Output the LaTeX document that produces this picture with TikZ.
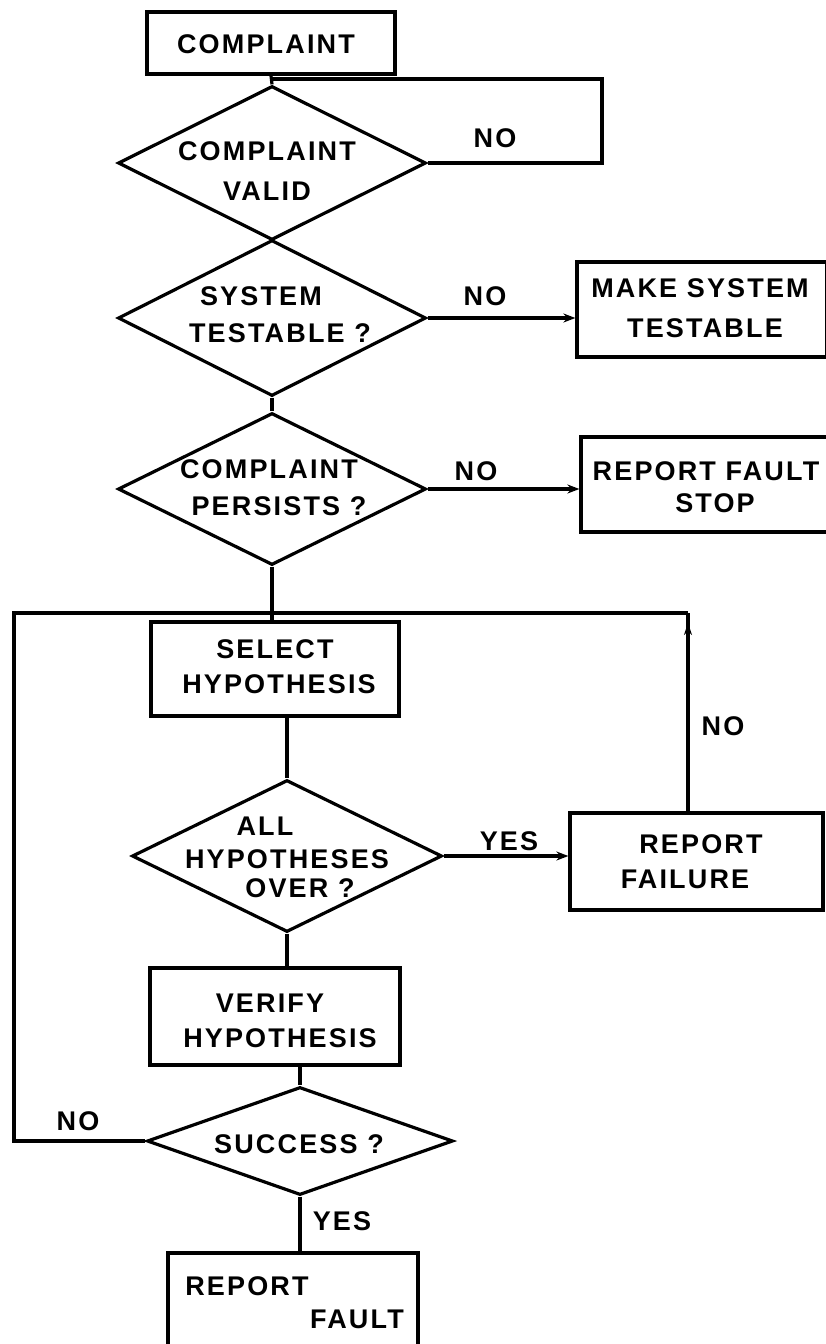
\documentclass[tikz,border=0pt]{standalone}
\usepackage{fontspec}
\setmainfont{Liberation Sans}[LetterSpace=8]
\usetikzlibrary{shapes.geometric,arrows.meta,decorations.markings}
\begin{document}
\begin{tikzpicture}[x=1pt,y=-1pt,
  line width=3.2pt,
  box/.style={draw, rectangle, line width=3.2pt},
  dia/.style={draw, diamond, inner sep=0pt, line width=3.2pt},
  txt/.style={font=\fontsize{27}{33}\selectfont\bfseries, anchor=base, inner sep=0pt},
  arr/.style={-{Stealth[length=12pt,width=9pt]}},
  uparr/.style={postaction={decorate}, decoration={markings, mark=at position 0.95 with {\arrow{Stealth[length=12pt,width=8pt]}}}}
]
\clip (0,0) rectangle (826,1344);
\fill[white] (0,0) rectangle (826,1344);

% boxes
\node[box, minimum width=248pt, minimum height=62pt] (b1) at (271,43) {};
\node[box, minimum width=250pt, minimum height=95pt] (mst) at (702,309.5) {};
\node[box, minimum width=255pt, minimum height=95pt] (rfs) at (708.5,484.5) {};
\node[box, minimum width=248pt, minimum height=94pt] (sel) at (275,669) {};
\node[box, minimum width=253pt, minimum height=97pt] (rf) at (696.5,861.5) {};
\node[box, minimum width=250pt, minimum height=97pt] (ver) at (275,1016.5) {};
\node[box, minimum width=250pt, minimum height=110pt] (rfa) at (293,1308) {};

% diamonds
\node[dia, minimum width=308pt, minimum height=154pt] (d1) at (272,163) {};
\node[dia, minimum width=308pt, minimum height=156pt] (d2) at (272,318) {};
\node[dia, minimum width=308pt, minimum height=152pt] (d3) at (272,489) {};
\node[dia, minimum width=310pt, minimum height=152pt] (d4) at (287,856) {};
\node[dia, minimum width=306pt, minimum height=108pt] (d5) at (300,1141) {};

% coordinates
\coordinate (lp) at (272,79);
\coordinate (lpr) at (602,79);
\coordinate (tl) at (14,613);
\coordinate (tr) at (688,613);

% connectors
\draw (b1.south) -- (d1.north);
\draw (d1.east) -- (lpr |- d1.east) -- (lpr) -- (lp);
\draw (d1.south) -- (d2.north);
\draw[arr] (d2.east) -- (d2.east -| mst.west);
\draw (d2.south) -- (d3.north);
\draw[arr] (d3.east) -- (d3.east -| rfs.west);
\draw (d3.south) -- (d3.south |- sel.north);
\draw (d5.west) -- (tl |- d5.west) -- (tl) -- (tr);
\draw[uparr] (tr |- rf.north) -- (tr);
\draw (d4.north |- sel.south) -- (d4.north);
\draw[arr] (d4.east) -- (d4.east -| rf.west);
\draw (d4.south) -- (d4.south |- ver.north);
\draw (d5.north |- ver.south) -- (d5.north);
\draw (d5.south) -- (d5.south |- rfa.north);

% texts
\node[txt] (t1) at (266,53) {COMPLAINT};
\node[txt] (t2a) at (267,160) {COMPLAINT};
\node[txt] (t2b) at (267,200) {VALID};
\node[txt] (n1) at (495,147) {NO};
\node[txt] (t3a) at (261,305) {SYSTEM};
\node[txt] (t3b) at (280,342) {TESTABLE ?};
\node[txt] (n2) at (485,305) {NO};
\node[txt] (t4a) at (700,297) {MAKE SYSTEM};
\node[txt] (t4b) at (705,337) {TESTABLE};
\node[txt] (t5a) at (269,478) {COMPLAINT};
\node[txt] (t5b) at (279,515) {PERSISTS ?};
\node[txt] (n3) at (476,480) {NO};
\node[txt] (t6a) at (706,480) {REPORT FAULT};
\node[txt] (t6b) at (715,512) {STOP};
\node[txt] (t7a) at (275,658) {SELECT};
\node[txt] (t7b) at (279,693) {HYPOTHESIS};
\node[txt] (n4) at (723,735) {NO};
\node[txt] (t8a) at (265,835) {ALL};
\node[txt] (t8b) at (287,868) {HYPOTHESES};
\node[txt] (t8c) at (300,897) {OVER ?};
\node[txt] (y1) at (509,850) {YES};
\node[txt] (t9a) at (701,853) {REPORT};
\node[txt] (t9b) at (685,888) {FAILURE};
\node[txt] (t10a) at (270,1012) {VERIFY};
\node[txt] (t10b) at (280,1047) {HYPOTHESIS};
\node[txt] (t11) at (299,1153) {SUCCESS ?};
\node[txt] (n5) at (78,1130) {NO};
\node[txt] (y2) at (342,1230) {YES};
\node[txt] (t12a) at (247,1295) {REPORT};
\node[txt] (t12b) at (357,1328) {FAULT};
\end{tikzpicture}
\end{document}
